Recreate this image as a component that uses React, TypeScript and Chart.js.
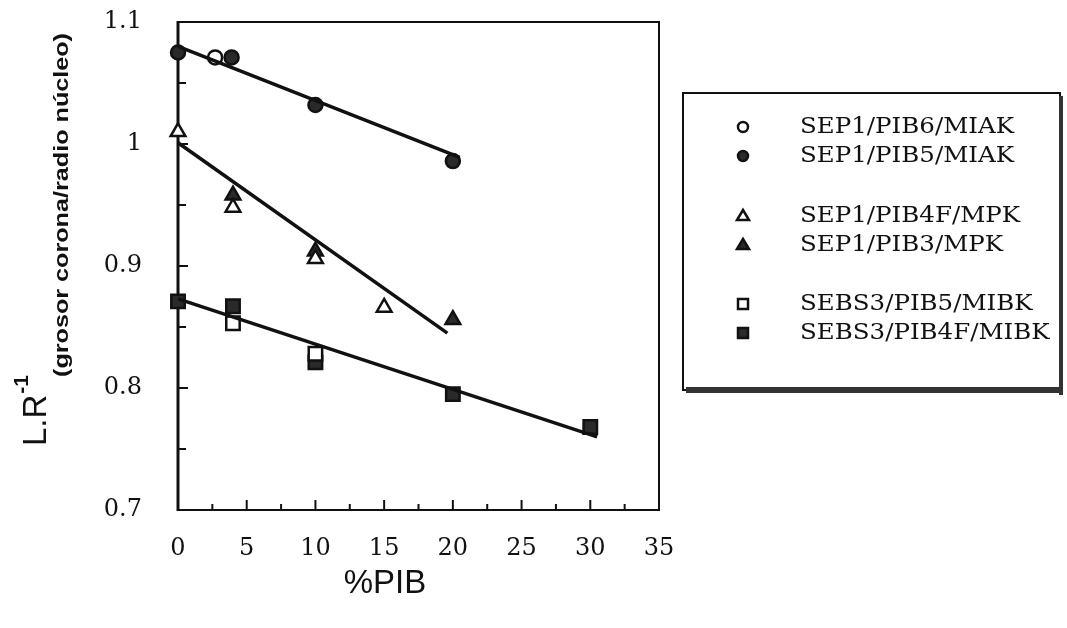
import React, { useEffect, useRef } from 'react';
import { Chart, registerables } from 'chart.js';

Chart.register(...registerables);

// ---- data ----
const seriesLabels = [
  'SEP1/PIB6/MIAK',
  'SEP1/PIB5/MIAK',
  'SEP1/PIB4F/MPK',
  'SEP1/PIB3/MPK',
  'SEBS3/PIB5/MIBK',
  'SEBS3/PIB4F/MIBK',
];

const pib6MiakX = [2.7];
const pib6MiakY = [1.071];

const pib5MiakX = [0, 3.9, 10, 20];
const pib5MiakY = [1.075, 1.071, 1.032, 0.986];

const pib4fMpkX = [0, 4, 10, 15];
const pib4fMpkY = [1.01, 0.948, 0.906, 0.866];

const pib3MpkX = [4, 10, 20];
const pib3MpkY = [0.958, 0.912, 0.856];

const sebsPib5X = [4, 10];
const sebsPib5Y = [0.853, 0.828];

const sebsPib4fX = [0, 4, 10, 20, 30];
const sebsPib4fY = [0.871, 0.867, 0.821, 0.795, 0.768];

// fitted lines (end points)
const fitMiakX = [0, 20.5];
const fitMiakY = [1.08, 0.989];
const fitMpkX = [0, 19.6];
const fitMpkY = [1.001, 0.845];
const fitMibkX = [0, 30.5];
const fitMibkY = [0.873, 0.76];

const xTickMin = 0;
const xTickMax = 35;
const xTickStep = 2.5;
const yTickMin = 0.7;
const yTickMax = 1.1;
const yTickStep = 0.05;

const pts = (xs: number[], ys: number[]) => xs.map((x, i) => ({ x, y: ys[i] }));

const INK = '#111';
const FILL = '#2a2a2a';

const framePlugin = {
  id: 'framePlugin',
  beforeDatasetsDraw(chart: any) {
    const { ctx, chartArea: a, scales } = chart;
    ctx.save();
    ctx.strokeStyle = INK;
    ctx.lineCap = 'butt';
    ctx.lineWidth = 2;
    ctx.beginPath();
    ctx.moveTo(a.left, a.top);
    ctx.lineTo(a.right, a.top);
    ctx.lineTo(a.right, a.bottom);
    ctx.lineTo(a.left, a.bottom);
    ctx.stroke();
    ctx.lineWidth = 3;
    ctx.beginPath();
    ctx.moveTo(a.left, a.top - 1);
    ctx.lineTo(a.left, a.bottom + 1);
    ctx.stroke();
    ctx.lineWidth = 2;
    scales.x.ticks.forEach((t: any) => {
      const px = scales.x.getPixelForValue(t.value);
      const major = Math.round(t.value * 10) % 50 === 0;
      const len = major ? 10 : 6;
      ctx.beginPath();
      ctx.moveTo(px, a.bottom);
      ctx.lineTo(px, a.bottom - len);
      ctx.stroke();
    });
    scales.y.ticks.forEach((t: any) => {
      const py = scales.y.getPixelForValue(t.value);
      const major = Math.round(t.value * 100) % 10 === 0;
      const len = major ? 10 : 8;
      ctx.beginPath();
      ctx.moveTo(a.left, py);
      ctx.lineTo(a.left + len, py);
      ctx.stroke();
    });
    ctx.restore();
  },
  afterDraw(chart: any) {
    const { ctx } = chart;
    ctx.save();
    ctx.fillStyle = INK;
    // y axis title
    ctx.save();
    ctx.translate(46, 446);
    ctx.rotate(-Math.PI / 2);
    ctx.font = '33px "Liberation Sans"';
    ctx.textBaseline = 'alphabetic';
    ctx.textAlign = 'left';
    ctx.fillText('L.R', 0, 0);
    const w = ctx.measureText('L.R').width;
    ctx.font = 'bold 21px "Liberation Sans"';
    ctx.fillText('-1', w + 1, -18);
    ctx.restore();

    ctx.save();
    ctx.translate(68, 205);
    ctx.rotate(-Math.PI / 2);
    ctx.font = 'bold 20px "Liberation Sans"';
    const sub = '(grosor corona/radio núcleo)';
    const sw = ctx.measureText(sub).width;
    ctx.scale(344 / sw, 1);
    ctx.textAlign = 'center';
    ctx.textBaseline = 'alphabetic';
    ctx.fillText(sub, 0, 0);
    ctx.restore();

    // x axis title
    ctx.font = '33px "Liberation Sans"';
    ctx.textAlign = 'center';
    ctx.textBaseline = 'middle';
    ctx.fillText('%PIB', 385, 584);

    // legend box
    const bx = 683, by = 93, bw = 377, bh = 297;
    ctx.strokeStyle = INK;
    ctx.lineWidth = 2;
    ctx.strokeRect(bx, by, bw, bh);
    ctx.fillStyle = '#333';
    ctx.fillRect(bx + 3, by + bh - 3, bw, 6);
    ctx.fillRect(bx + bw - 1, by + 3, 4, bh + 2);

    const rows = [127, 156, 216, 245, 304, 333];
    const mx = 743;
    ctx.font = '23px "DejaVu Serif"';
    const tw = ctx.measureText(seriesLabels[0]).width;
    const sx = 214 / tw;
    rows.forEach((ry, i) => {
      ctx.save();
      ctx.strokeStyle = INK;
      ctx.lineWidth = 2.5;
      ctx.fillStyle = i % 2 === 0 ? '#fff' : FILL;
      ctx.beginPath();
      if (i < 2) {
        ctx.arc(mx, ry, 5, 0, Math.PI * 2);
      } else if (i < 4) {
        ctx.moveTo(mx, ry - 6);
        ctx.lineTo(mx + 6, ry + 4);
        ctx.lineTo(mx - 6, ry + 4);
        ctx.closePath();
      } else {
        ctx.rect(mx - 5, ry - 5, 10, 10);
      }
      ctx.fill();
      ctx.stroke();
      ctx.restore();

      ctx.save();
      ctx.fillStyle = INK;
      ctx.translate(800, ry);
      ctx.scale(sx, 1);
      ctx.textAlign = 'left';
      ctx.textBaseline = 'middle';
      ctx.fillText(seriesLabels[i], 0, 0);
      ctx.restore();
    });
    ctx.restore();
  },
};

export default function App() {
  const ref = useRef<HTMLCanvasElement | null>(null);

  useEffect(() => {
    if (!ref.current) return;
    const marker = (label: string, data: any[], style: string, filled: boolean, r: number) => ({
      type: 'scatter' as const,
      label,
      data,
      pointStyle: style,
      pointRadius: r,
      pointBorderWidth: 2.5,
      pointBorderColor: INK,
      pointBackgroundColor: filled ? FILL : '#ffffff',
      showLine: false,
      clip: false as any,
    });
    const fit = (label: string, data: any[]) => ({
      type: 'line' as const,
      label,
      data,
      borderColor: INK,
      borderWidth: 3.5,
      pointRadius: 0,
      showLine: true,
      fill: false,
      tension: 0,
      clip: false as any,
    });

    const chart = new Chart(ref.current, {
      type: 'scatter',
      data: {
        datasets: [
          fit('fit MIAK', pts(fitMiakX, fitMiakY)),
          fit('fit MPK', pts(fitMpkX, fitMpkY)),
          fit('fit MIBK', pts(fitMibkX, fitMibkY)),
          marker(seriesLabels[0], pts(pib6MiakX, pib6MiakY), 'circle', false, 7),
          marker(seriesLabels[1], pts(pib5MiakX, pib5MiakY), 'circle', true, 7),
          marker(seriesLabels[2], pts(pib4fMpkX, pib4fMpkY), 'triangle', false, 8.5),
          marker(seriesLabels[3], pts(pib3MpkX, pib3MpkY), 'triangle', true, 8.5),
          marker(seriesLabels[4], pts(sebsPib5X, sebsPib5Y), 'rect', false, 9.5),
          marker(seriesLabels[5], pts(sebsPib4fX, sebsPib4fY), 'rect', true, 9.5),
        ] as any,
      },
      options: {
        animation: false,
        responsive: false,
        devicePixelRatio: 1,
        layout: { padding: { left: 0, top: 22, right: 408, bottom: 0 } },
        plugins: {
          legend: { display: false },
          tooltip: { enabled: false },
          title: { display: false },
        },
        scales: {
          x: {
            type: 'linear',
            min: xTickMin,
            max: xTickMax,
            grid: { display: false },
            border: { display: false },
            afterFit: (s: any) => { s.height = 118; s.paddingLeft = 0; s.paddingRight = 0; },
            ticks: {
              stepSize: xTickStep,
              autoSkip: false,
              maxRotation: 0,
              padding: 16,
              color: INK,
              font: { family: '"DejaVu Serif"', size: 24 },
              callback: (v: any) => (Math.round(Number(v) * 10) % 50 === 0 ? String(Math.round(Number(v))) : ''),
            },
          },
          y: {
            type: 'linear',
            min: yTickMin,
            max: yTickMax,
            grid: { display: false },
            border: { display: false },
            afterFit: (s: any) => { s.width = 178; s.paddingTop = 0; s.paddingBottom = 0; },
            ticks: {
              stepSize: yTickStep,
              autoSkip: false,
              padding: 28,
              color: INK,
              font: { family: '"DejaVu Serif"', size: 24 },
              callback: (v: any) => {
                const r = Math.round(Number(v) * 100);
                return r % 10 === 0 ? String(r / 100) : '';
              },
            },
          },
        },
      } as any,
      plugins: [framePlugin],
    });
    return () => chart.destroy();
  }, []);

  return (
    <div style={{ position: 'fixed', left: 0, top: 0, width: 1067, height: 628, background: '#fff' }}>
      <canvas ref={ref} width={1067} height={628} style={{ display: 'block', width: 1067, height: 628 }} />
    </div>
  );
}
